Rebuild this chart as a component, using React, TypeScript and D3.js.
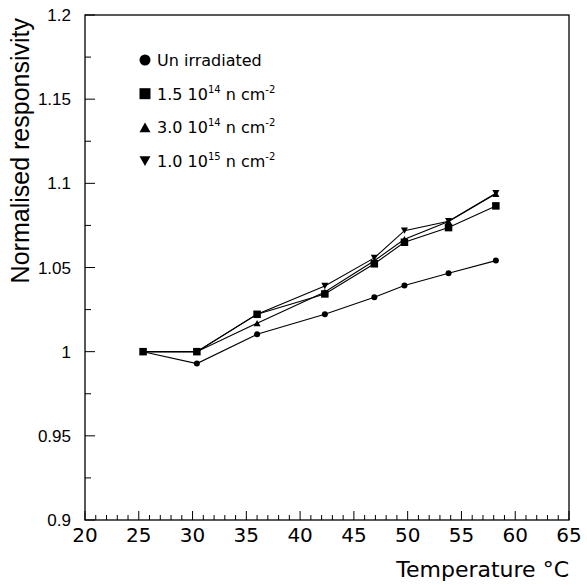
import * as d3 from 'd3';
import React, { useEffect, useRef } from 'react';

const temps = [25.4, 30.4, 36.0, 42.3, 46.9, 49.7, 53.8, 58.2];

const unirradiated = [1.0, 0.9929, 1.0103, 1.0222, 1.0323, 1.0393, 1.0466, 1.0541];
const fluence15e14 = [1.0, 1.0, 1.0222, 1.0343, 1.0522, 1.065, 1.0737, 1.0866];
const fluence30e14 = [1.0, 1.0, 1.0169, 1.0355, 1.054, 1.0668, 1.0773, 1.0938];
const fluence10e15 = [1.0, 1.0, 1.0222, 1.039, 1.0557, 1.0719, 1.0775, 1.0941];

const series = [
  { name: 'Un irradiated', base: '', exp: '', values: unirradiated, marker: 'circle' },
  { name: '1.5 10', base: '14', exp: '-2', values: fluence15e14, marker: 'square' },
  { name: '3.0 10', base: '14', exp: '-2', values: fluence30e14, marker: 'triangle' },
  { name: '1.0 10', base: '15', exp: '-2', values: fluence10e15, marker: 'triangleDown' },
];

const xTicks = [20, 25, 30, 35, 40, 45, 50, 55, 60, 65];
const yTicks = [0.9, 0.95, 1, 1.05, 1.1, 1.15, 1.2];

const App = () => {
  const ref = useRef<SVGSVGElement>(null);

  useEffect(() => {
    const svg = d3.select(ref.current);
    svg.selectAll('*').remove();

    const margin = { left: 85, top: 15, right: 569, bottom: 520 };

    const x = d3.scaleLinear().domain([20, 65]).range([margin.left, margin.right]);
    const y = d3.scaleLinear().domain([0.9, 1.2]).range([margin.bottom, margin.top]);

    // frame
    svg.append('rect')
      .attr('x', margin.left).attr('y', margin.top)
      .attr('width', margin.right - margin.left)
      .attr('height', margin.bottom - margin.top)
      .attr('fill', 'none').attr('stroke', '#000').attr('stroke-width', 1.3);

    // x ticks (inside)
    const xMinor = d3.range(20, 65.01, 1);
    svg.append('g').selectAll('line')
      .data(xMinor)
      .enter().append('line')
      .attr('x1', d => x(d)).attr('x2', d => x(d))
      .attr('y1', margin.bottom)
      .attr('y2', d => margin.bottom - (d % 5 === 0 ? 9 : 5))
      .attr('stroke', '#000').attr('stroke-width', 1);

    svg.append('g').selectAll('text')
      .data(xTicks)
      .enter().append('text')
      .attr('x', d => x(d))
      .attr('y', margin.bottom + 22)
      .attr('text-anchor', 'middle')
      .attr('font-family', '"DejaVu Sans", sans-serif')
      .attr('font-size', 20)
      .text(d => d);

    // y ticks (inside)
    const yMinor = d3.range(0, 13).map(i => 0.9 + i * 0.025);
    svg.append('g').selectAll('line')
      .data(yMinor)
      .enter().append('line')
      .attr('x1', margin.left)
      .attr('x2', (d, i) => margin.left + (i % 2 === 0 ? 10 : 6))
      .attr('y1', d => y(d)).attr('y2', d => y(d))
      .attr('stroke', '#000').attr('stroke-width', 1);

    svg.append('g').selectAll('text')
      .data(yTicks)
      .enter().append('text')
      .attr('x', 71)
      .attr('y', d => y(d))
      .attr('dy', '0.36em')
      .attr('text-anchor', 'end')
      .attr('font-family', '"Liberation Sans", Arial, sans-serif')
      .attr('font-size', 17)
      .text(d => d);

    // axis titles
    svg.append('text')
      .attr('transform', 'translate(29,18) rotate(-90)')
      .attr('text-anchor', 'end')
      .attr('font-family', '"Liberation Sans", Arial, sans-serif')
      .attr('font-size', 25)
      .text('Normalised responsivity');

    svg.append('text')
      .attr('x', margin.right)
      .attr('y', 577)
      .attr('text-anchor', 'end')
      .attr('font-family', '"DejaVu Sans", sans-serif')
      .attr('font-size', 22)
      .text('Temperature °C');

    const drawMarker = (g: any, kind: string, cx: number, cy: number, s: number) => {
      if (kind === 'circle') {
        g.append('circle').attr('cx', cx).attr('cy', cy).attr('r', s * 0.5).attr('fill', '#000');
      } else if (kind === 'square') {
        g.append('rect').attr('x', cx - s / 2).attr('y', cy - s / 2)
          .attr('width', s).attr('height', s).attr('fill', '#000');
      } else if (kind === 'triangle') {
        const h = s * 0.9;
        g.append('path')
          .attr('d', `M${cx - s / 2},${cy + h / 2}L${cx + s / 2},${cy + h / 2}L${cx},${cy - h / 2}Z`)
          .attr('fill', '#000');
      } else {
        const h = s * 0.9;
        g.append('path')
          .attr('d', `M${cx - s / 2},${cy - h / 2}L${cx + s / 2},${cy - h / 2}L${cx},${cy + h / 2}Z`)
          .attr('fill', '#000');
      }
    };

    const line = d3.line<number>()
      .x((d, i) => x(temps[i]))
      .y(d => y(d));

    const plot = svg.append('g');
    series.forEach(s => {
      plot.append('path')
        .attr('d', line(s.values))
        .attr('fill', 'none')
        .attr('stroke', '#000')
        .attr('stroke-width', 1.1);
    });
    series.forEach(s => {
      const size = s.marker === 'square' ? 7.5 : s.marker === 'circle' ? 6 : 7;
      s.values.forEach((v, i) => drawMarker(plot, s.marker, x(temps[i]), y(v), size));
    });

    // legend
    const legend = svg.append('g');
    series.forEach((s, i) => {
      const ly = 60 + i * 33.7;
      drawMarker(legend, s.marker, 145, ly, 11);
      const t = legend.append('text')
        .attr('x', 157)
        .attr('y', ly + 6)
        .attr('font-family', '"DejaVu Sans", sans-serif')
        .attr('font-size', 16);
      t.append('tspan').text(s.name);
      if (s.base) {
        t.append('tspan').attr('font-size', 10).attr('dy', -7).text(s.base);
        t.append('tspan').attr('dy', 7).text(' n cm');
        t.append('tspan').attr('font-size', 10).attr('dy', -7).text(s.exp);
      }
    });
  }, []);

  return (
    <svg ref={ref} width={587} height={585} style={{ position: 'absolute', left: 0, top: 0, background: '#fff' }} />
  );
};

export default App;
